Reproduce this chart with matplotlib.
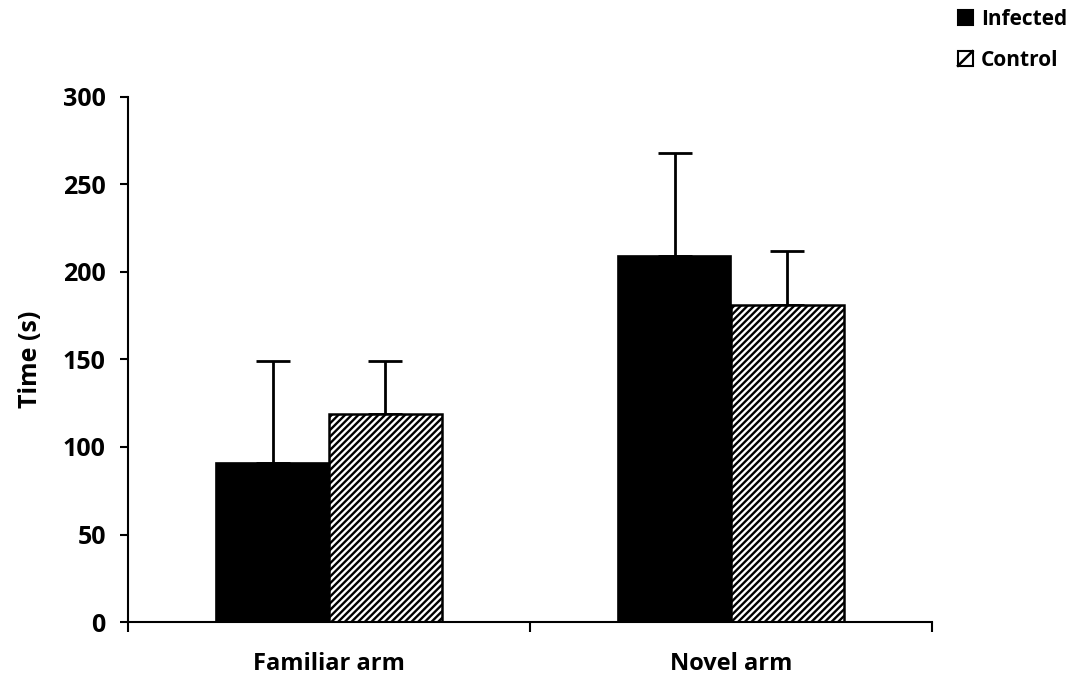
import matplotlib
matplotlib.use("Agg")
import matplotlib.pyplot as plt
from matplotlib.patches import Patch, Rectangle
from matplotlib.lines import Line2D
from matplotlib.legend_handler import HandlerBase
import numpy as np

categories = ["Familiar arm", "Novel arm"]
series_names = ["Infected", "Control"]
infected_mean = [91, 209]
infected_err = [58, 59]
control_mean = [119, 181]
control_err = [30, 31]
y_ticks = [0, 50, 100, 150, 200, 250, 300]

plt.rcParams["font.family"] = ["Open Sans", "DejaVu Sans"]
plt.rcParams["font.weight"] = "bold"
plt.rcParams["hatch.linewidth"] = 1.7


class SquareKey(HandlerBase):
    """Legend key: a square, optionally crossed by one diagonal stroke."""

    def __init__(self, diagonal=False):
        super().__init__()
        self.diagonal = diagonal

    def create_artists(self, legend, orig_handle, xdescent, ydescent,
                       width, height, fontsize, trans):
        x0, y0 = -xdescent, -ydescent
        sq = Rectangle((x0, y0), width, height,
                       facecolor=orig_handle.get_facecolor(),
                       edgecolor="black", linewidth=1.5, transform=trans)
        artists = [sq]
        if self.diagonal:
            artists.append(Line2D([x0, x0 + width], [y0, y0 + height],
                                  color="black", linewidth=1.8,
                                  transform=trans))
        return artists


fig = plt.figure(figsize=(10.82, 6.78), dpi=100)
ax = fig.add_axes([128 / 1082, 56 / 678, 804 / 1082, 525 / 678])

centers = np.arange(len(categories)) + 0.5
width = 0.28

ax.bar(centers - width / 2, infected_mean, width, color="black",
       edgecolor="black", linewidth=1.2, zorder=2)
ax.bar(centers + width / 2, control_mean, width, color="white",
       edgecolor="black", hatch="/////", linewidth=1.8, zorder=2)

err_kw = dict(fmt="none", ecolor="black", elinewidth=2, capsize=12,
              capthick=2, zorder=1)
ax.errorbar(centers - width / 2, infected_mean,
            yerr=[np.zeros(2), infected_err], **err_kw)
ax.errorbar(centers + width / 2, control_mean,
            yerr=[np.zeros(2), control_err], **err_kw)

ax.set_xlim(0, len(categories))
ax.set_ylim(0, 300)
ax.set_yticks(y_ticks)
ax.set_yticklabels([str(v) for v in y_ticks], fontsize=18, fontweight="bold")

# category boundaries carry the ticks; names sit at group centres
ax.set_xticks(np.arange(len(categories) + 1))
ax.set_xticklabels([])
ax.tick_params(axis="x", direction="out", length=7, width=1.5)
ax.tick_params(axis="y", direction="out", length=6, width=1.5, pad=10)
for c, name in zip(centers, categories):
    ax.text(c, -0.08, name, transform=ax.get_xaxis_transform(),
            ha="center", va="center", fontsize=17, fontweight="bold")

for side in ["top", "right"]:
    ax.spines[side].set_visible(False)
for side in ["left", "bottom"]:
    ax.spines[side].set_linewidth(1.5)

ax.set_ylabel("Time (s)", fontsize=18, fontweight="bold", labelpad=14)

h_inf = Patch(facecolor="black", label=series_names[0])
h_ctl = Patch(facecolor="white", label=series_names[1])
fig.legend(handles=[h_inf, h_ctl], loc="upper left",
           handler_map={h_inf: SquareKey(False), h_ctl: SquareKey(True)},
           bbox_to_anchor=(958 / 1082, 1 - 9 / 678),
           borderaxespad=0, borderpad=0,
           frameon=False, handlelength=0.7, handleheight=0.7,
           handletextpad=0.4, labelspacing=0.95,
           prop={"weight": "bold", "size": 15})

fig.savefig("out.png", dpi=100)
